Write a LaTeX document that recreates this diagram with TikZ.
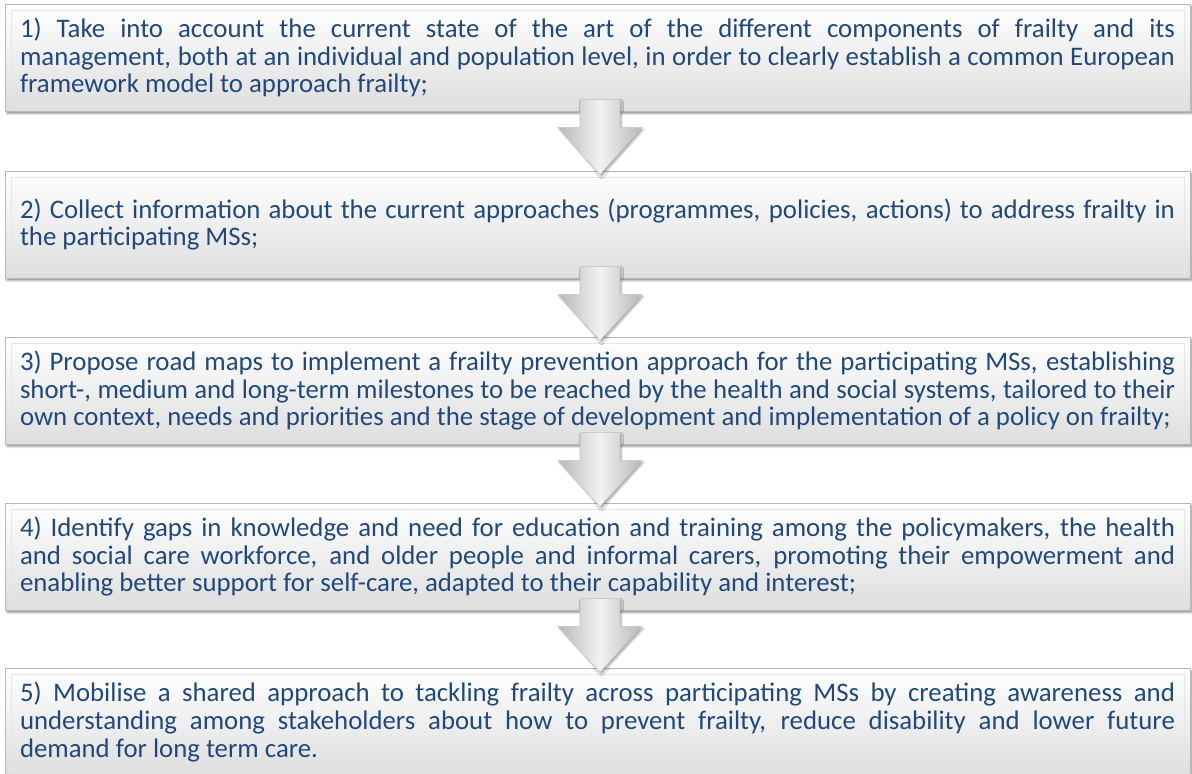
\documentclass[tikz,border=0pt]{standalone}
\usepackage{fontspec}
\setmainfont{Carlito}
\usepackage{tikz}
\usetikzlibrary{calc,shadows.blur}
\definecolor{textblue}{RGB}{31,73,125}
\hyphenpenalty=10000
\exhyphenpenalty=10000
\emergencystretch=40pt
\tikzset{every picture/.style={line width=0.75pt}}
\tikzset{
  stepbox/.style={rectangle, draw=black!28, top color=white, bottom color=black!13,
    minimum width=1185pt, minimum height=107pt, text width=1155pt, inner xsep=15pt,
    align=justify, text=textblue, font=\fontsize{26.8}{27.7}\selectfont,
    blur shadow={shadow xshift=2pt, shadow yshift=-2.5pt, shadow opacity=45, shadow blur steps=4},
    path picture={\draw[black!10, line width=0.6pt]
      ($(path picture bounding box.north west)+(6,-6)$) rectangle
      ($(path picture bounding box.south east)+(-6,6)$);}},
  downarrow/.style={draw=black!22, line width=0.6pt, left color=black!28, right color=black!28,
    middle color=black!5,
    blur shadow={shadow xshift=1.5pt, shadow yshift=-2pt, shadow opacity=35, shadow blur steps=4}}
}

\begin{document}
\begin{tikzpicture}[x=1pt,y=1pt]
\useasboundingbox (0,0) rectangle (1192,-774);
% steps
\node[stepbox] (b1) at (597.5,-57.5) {1) Take into account the current state of the art of the different components of frailty and its\linebreak management, both at an individual and population level, in order to clearly establish a common European\linebreak framework model to approach frailty;};
\node[stepbox] (b2) at (597.5,-224.5) {2) Collect information about the current approaches (programmes, policies, actions) to address frailty in\linebreak the participating MSs;};
\node[stepbox] (b3) at (597.5,-390.5) {3) Propose road maps to implement a frailty prevention approach for the participating MSs, establishing\linebreak short-, medium and long-term milestones to be reached by the health and social systems, tailored to their\linebreak own context, needs and priorities and the stage of development and implementation of a policy on frailty;};
\node[stepbox] (b4) at (597.5,-556.5) {4) Identify gaps in knowledge and need for education and training among the policymakers, the health\linebreak and social care workforce, and older people and informal carers, promoting their empowerment and\linebreak enabling better support for self-care, adapted to their capability and interest;};
\node[stepbox] (b5) at (597.5,-722) {5) Mobilise a shared approach to tackling frailty across participating MSs by creating awareness and\linebreak understanding among stakeholders about how to prevent frailty, reduce disability and lower future\linebreak demand for long term care.};
%
% arrows between steps
\foreach \i/\j in {1/2,2/3,3/4,4/5}
  \path[downarrow] ($(b\i.south)+(-17.5,12)$) -- ($(b\i.south)+(22.5,12)$)
    -- ($(b\i.south)+(22.5,-16)$) -- ($(b\i.south)+(44.5,-16)$)
    -- ($(b\j.north)+(2.5,-4)$) -- ($(b\i.south)+(-39.5,-16)$)
    -- ($(b\i.south)+(-17.5,-16)$) -- cycle;
\end{tikzpicture}
\end{document}
